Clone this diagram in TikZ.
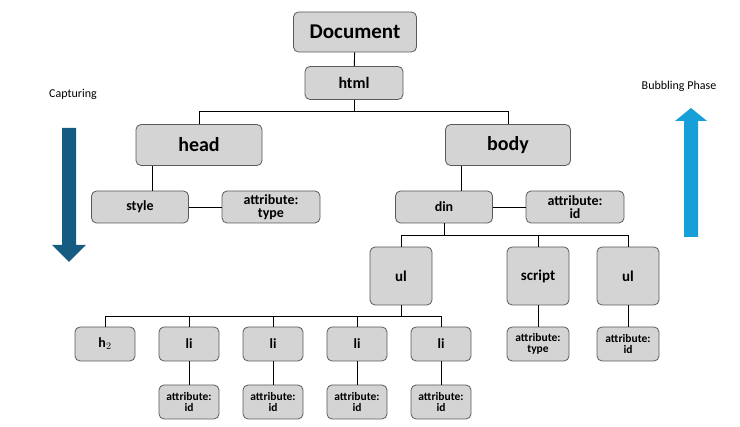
\documentclass[tikz,border=0pt]{standalone}
\usepackage{fontspec}
\setmainfont{Carlito}
\usetikzlibrary{arrows,calc}
\definecolor{cbox}{RGB}{212,212,212}
\definecolor{cedge}{RGB}{90,90,90}
\definecolor{ccapt}{RGB}{22,92,130}
\definecolor{cbubb}{RGB}{22,160,215}
\tikzset{tag/.style={draw=cedge,fill=cbox,rounded corners=5pt,line width=0.8pt,
  align=center,inner sep=0pt,font=\bfseries\fontsize{14}{14}\selectfont},
  attr/.style={font=\bfseries\fontsize{14}{12.5}\selectfont},
  sattr/.style={font=\bfseries\fontsize{11.5}{11}\selectfont},
  link/.style={draw,line width=0.9pt,color=black}}

\begin{document}
\begin{tikzpicture}[x=1pt,y=-1pt]
\useasboundingbox (0,0) rectangle (740,427);
\begin{scope}[every node/.style={tag}]
\node[minimum width=123pt,minimum height=40pt,font=\bfseries\fontsize{21}{21}\selectfont] (doc) at (355,32) {Document};
\node[minimum width=98pt,minimum height=33pt,font=\bfseries\fontsize{16}{16}\selectfont] (html) at (354,83) {html};
\node[minimum width=126pt,minimum height=41pt,font=\bfseries\fontsize{20}{20}\selectfont] (head) at (199,145) {head};
\node[minimum width=125pt,minimum height=41pt,font=\bfseries\fontsize{20}{20}\selectfont] (body) at (508,145) {body};
\node[minimum width=97pt,minimum height=32pt] (style) at (140,207) {style};
\node[minimum width=98pt,minimum height=32pt,attr] (stype) at (271,207) {attribute:\\type};
\node[minimum width=97pt,minimum height=32pt] (din) at (444,207) {din};
\node[minimum width=98pt,minimum height=32pt,attr] (did) at (575,207) {attribute:\\id};
\node[minimum width=62pt,minimum height=58pt,font=\bfseries\fontsize{15}{15}\selectfont] (ula) at (401,276) {ul};
\node[minimum width=62pt,minimum height=58pt,font=\bfseries\fontsize{15}{15}\selectfont] (script) at (538,276) {script};
\node[minimum width=62pt,minimum height=58pt,font=\bfseries\fontsize{15}{15}\selectfont] (ulb) at (628,276) {ul};
\node[minimum width=60pt,minimum height=34pt] (h) at (105,344) {h$_2$};
\node[minimum width=60pt,minimum height=34pt] (lia) at (189,344) {li};
\node[minimum width=60pt,minimum height=34pt] (lib) at (273,344) {li};
\node[minimum width=60pt,minimum height=34pt] (lic) at (357,344) {li};
\node[minimum width=60pt,minimum height=34pt] (lid) at (441,344) {li};
\node[minimum width=62pt,minimum height=34pt,sattr] (sctype) at (538,344) {attribute:\\type};
\node[minimum width=62pt,minimum height=34pt,sattr] (ulid) at (628,344) {attribute:\\id};
\node[minimum width=60pt,minimum height=34pt,sattr] (aida) at (189,402) {attribute:\\id};
\node[minimum width=60pt,minimum height=34pt,sattr] (aidb) at (273,402) {attribute:\\id};
\node[minimum width=60pt,minimum height=34pt,sattr] (aidc) at (357,402) {attribute:\\id};
\node[minimum width=60pt,minimum height=34pt,sattr] (aidd) at (441,402) {attribute:\\id};
\end{scope}

\path[link] (doc) -- (html);
\path[link] (html.south) -- ++(0,12) coordinate (hbus);
\path[link] (head.north) |- (hbus) -| (body.north);
\path[link] (style.north -| 152,0) -- (head.south -| 152,0);
\path[link] (din.north -| 461,0) -- (body.south -| 461,0);
\path[link] (style) -- (stype);
\path[link] (din) -- (did);
\path[link] (din.south) -- ++(0,12) coordinate (dbus);
\path[link] (ula.north) |- (dbus) -| (ulb.north);
\path[link] (dbus) -| (script.north);
\path[link] (ula.south) -- ++(0,11) coordinate (ubus);
\path[link] (h.north) |- (ubus) -| (lid.north);
\foreach \n in {lia,lib,lic} \path[link] (\n.north) -- (\n.north |- ubus);
\foreach \a/\b in {lia/aida,lib/aidb,lic/aidc,lid/aidd,script/sctype,ulb/ulid}
  \path[link] (\a) -- (\b);

% phase arrows
\node[font=\fontsize{12}{12}\selectfont] (capt) at (73,94) {Capturing};
\node[font=\fontsize{12}{12}\selectfont] (bubb) at (679,86) {Bubbling Phase};
\fill[ccapt] (62,128) -- (76,128) -- (76,245) -- (86,245) -- (69,262) -- (52,245) -- (62,245) -- cycle;
\fill[cbubb] (684,237) -- (698,237) -- (698,121) -- (707,121) -- (691,108) -- (675,121) -- (684,121) -- cycle;
\end{tikzpicture}
\end{document}
